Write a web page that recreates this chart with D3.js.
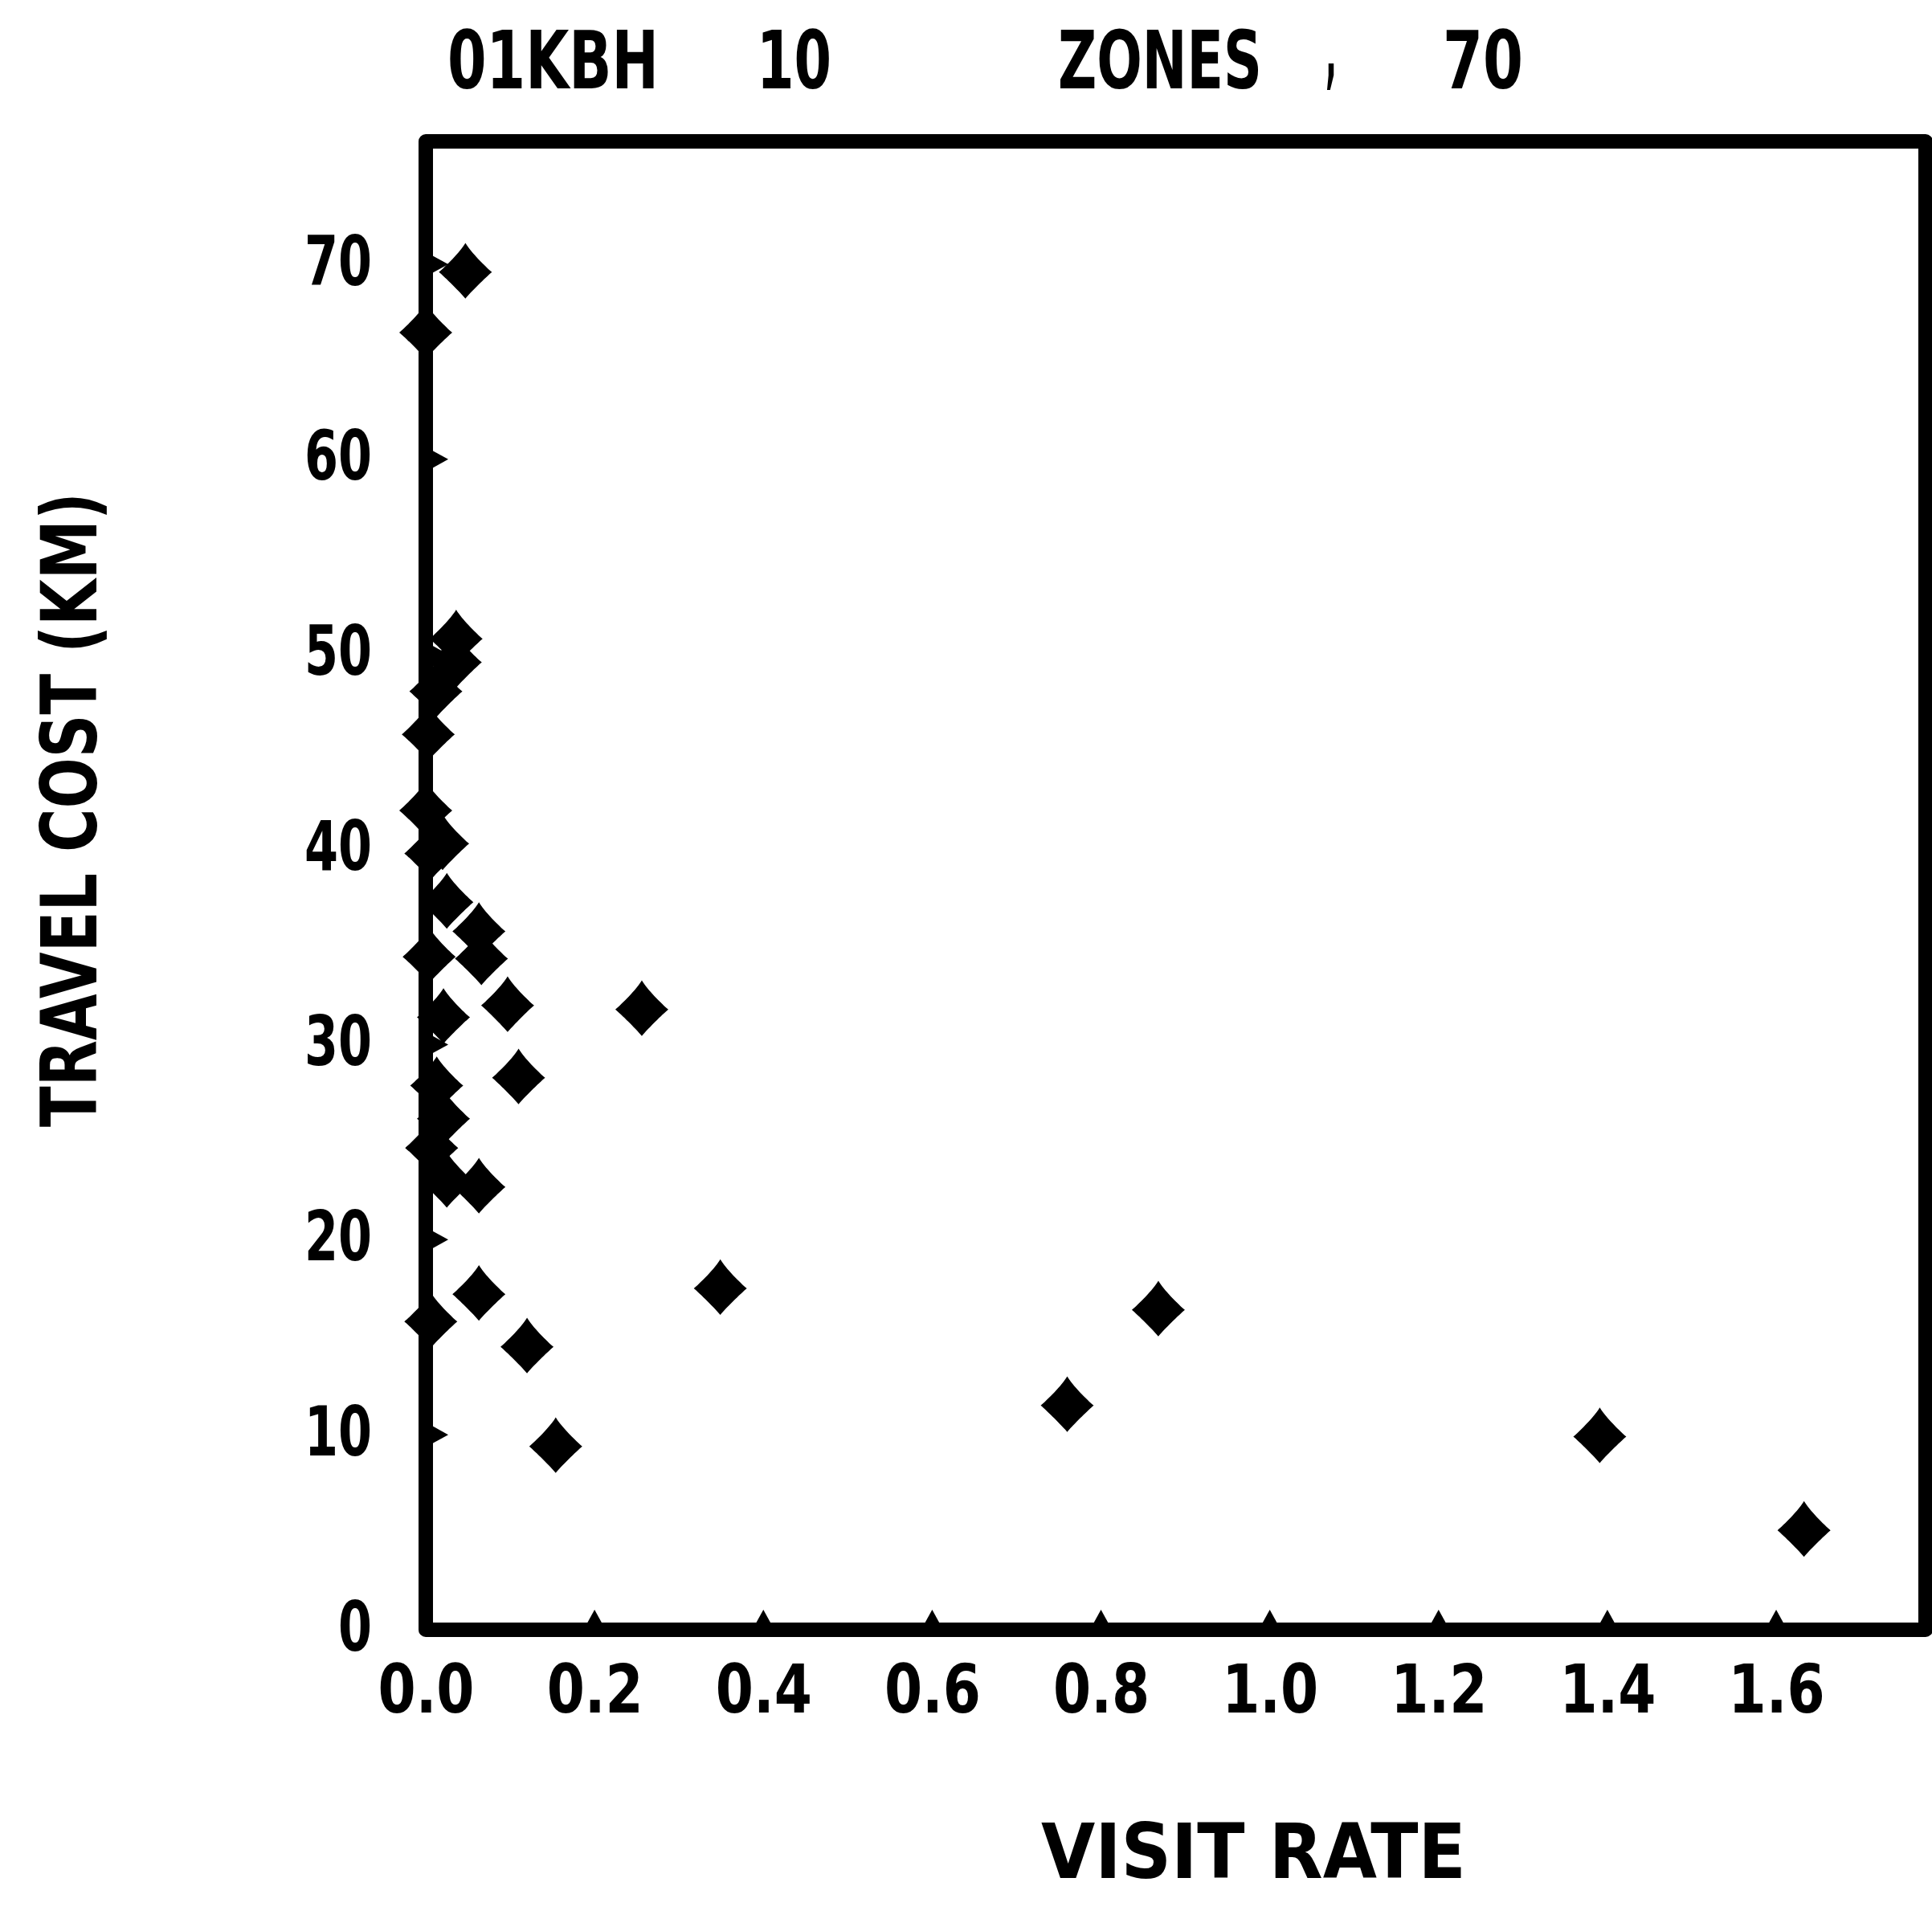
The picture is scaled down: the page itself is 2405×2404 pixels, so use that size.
<!DOCTYPE html>
<html>
<head>
<meta charset="utf-8">
<script src="https://cdn.jsdelivr.net/npm/d3@7"></script>
<style>
  html, body { margin: 0; padding: 0; background: #fff; }
  svg text { font-family: 'DejaVu Sans Condensed', 'DejaVu Sans', sans-serif; font-weight: bold; fill: #000; }
</style>
</head>
<body>
<svg id="chart" width="2405" height="2404"></svg>
<script>
// Visit rate (x) against travel cost in km (y), one point per zone
const visitRate  = [0.047, 0.000, 0.036, 0.035, 0.012, 0.003, 0.000, 0.006, 0.020,
                    0.025, 0.063, 0.066, 0.004, 0.097, 0.256, 0.021, 0.110, 0.013,
                    0.021, 0.007, 0.025, 0.063, 0.063, 0.349, 0.868, 0.006, 0.120,
                    0.760, 0.154, 1.391, 1.633];
const travelCost = [69.6, 66.5, 50.8, 49.6, 48.1, 45.9, 42.0, 39.8, 40.3,
                    37.3, 35.8, 34.4, 34.5, 32.0, 31.8, 31.4, 28.3, 27.9,
                    26.2, 24.7, 23.0, 22.7, 17.2, 17.5, 16.4, 15.8, 14.5,
                    11.5, 9.4, 9.9, 5.1];

const xTicks      = [0, 0.2, 0.4, 0.6, 0.8, 1.0, 1.2, 1.4, 1.6];
const xTickLabels = ["0.0", "0.2", "0.4", "0.6", "0.8", "1.0", "1.2", "1.4", "1.6"];
const yTicks      = [0, 10, 20, 30, 40, 50, 60, 70];
const yTickLabels = ["0", "10", "20", "30", "40", "50", "60", "70"];

const titleWords = ["01KBH", "10", "ZONES", ",", "70"];
const xTitle = "VISIT RATE";
const yTitle = "TRAVEL COST (KM)";

// ---- layout ----
const xMax = 1.777, yMax = 76.3;
const x = d3.scaleLinear().domain([0, xMax]).range([530, 2397]);
const y = d3.scaleLinear().domain([0, yMax]).range([2029, 176]);

const svg = d3.select("#chart");

// squeeze a text horizontally about its anchor point so it spans `w` pixels
function fitWidth(node, w, ax, ay) {
  const natural = node.getComputedTextLength();
  if (!natural) return;
  const s = w / natural;
  d3.select(node).attr("transform",
    `translate(${ax},${ay}) scale(${s},1) translate(${-ax},${-ay})`);
}

// title pieces, spaced like a line-printer header
const titleLayout = [
  { x: 557,  w: 263 },
  { x: 942,  w: 93  },
  { x: 1317, w: 254 },
  { x: 1650, w: 14  },
  { x: 1796, w: 100 }
];
svg.append("g").selectAll("text")
  .data(titleWords)
  .join("text")
  .attr("x", (d, i) => titleLayout[i].x)
  .attr("y", d => d === "," ? 98 : 110)
  .attr("font-size", 100)
  .text(d => d)
  .each(function (d, i) {
    fitWidth(this, titleLayout[i].w, titleLayout[i].x, 110);
  });

// plot frame
svg.append("rect")
  .attr("x", x(0)).attr("y", y(yMax))
  .attr("width", x(xMax) - x(0)).attr("height", y(0) - y(yMax))
  .attr("fill", "none").attr("stroke", "#000")
  .attr("stroke-width", 18).attr("stroke-linejoin", "round");

// axes: labels come from d3 axes, tick marks are small inward wedges
const xAxis = d3.axisBottom(x).tickValues(xTicks)
  .tickFormat((d, i) => xTickLabels[i]).tickSize(0).tickPadding(0);
const gx = svg.append("g").attr("transform", `translate(0,${y(0)})`).call(xAxis);
gx.attr("font-family", null).attr("font-size", null);
gx.select(".domain").remove();
gx.selectAll(".tick text")
  .attr("font-size", 84).attr("y", 103).attr("dy", 0)
  .each(function () { fitWidth(this, 120, 0, 103); });

const yAxis = d3.axisLeft(y).tickValues(yTicks)
  .tickFormat((d, i) => yTickLabels[i]).tickSize(0).tickPadding(0);
const gy = svg.append("g").attr("transform", `translate(${x(0)},0)`).call(yAxis);
gy.attr("font-family", null).attr("font-size", null);
gy.select(".domain").remove();
gy.selectAll(".tick text")
  .attr("font-size", 86).attr("x", -67).attr("dy", 25)
  .each(function (d) { fitWidth(this, 42 * String(d).length, -67, 0); });

// wedge-shaped tick mark, pointing along +x before rotation
const wedge = {
  draw(ctx, size) {
    const h = Math.sqrt(size);
    ctx.moveTo(0, -h * 0.55);
    ctx.lineTo(h, 0);
    ctx.lineTo(0, h * 0.55);
    ctx.closePath();
  }
};

svg.append("g").selectAll("path")
  .data(yTicks.filter(d => d > 0))
  .join("path")
  .attr("d", d3.symbol().type(wedge).size(22 * 22))
  .attr("transform", d => `translate(${x(0) + 6},${y(d)})`)
  .attr("fill", "#000");

svg.append("g").selectAll("path")
  .data(xTicks.filter(d => d > 0))
  .join("path")
  .attr("d", d3.symbol().type(wedge).size(19 * 19))
  .attr("transform", d => `translate(${x(d)},${y(0) - 6}) rotate(-90)`)
  .attr("fill", "#000");

// axis titles
svg.append("text")
  .attr("x", 1296).attr("y", 2338)
  .attr("font-size", 94)
  .text(xTitle)
  .each(function () { fitWidth(this, 529, 1296, 2338); });

const yt = svg.append("g").attr("transform", "translate(120,1403) rotate(-90)");
yt.append("text")
  .attr("x", 0).attr("y", 0)
  .attr("font-size", 96)
  .text(yTitle)
  .each(function () { fitWidth(this, 790, 0, 0); });

// plotter star: plump diamond whose sides curve in towards four sharp tips
const star4 = {
  draw(ctx, size) {
    const r = Math.sqrt(size) / 2;
    const a = 0.18 * r, b = 0.78 * r, top = 1.1 * r;
    ctx.moveTo(0, -top);
    ctx.bezierCurveTo(a, -b, b, -a, r, 0);
    ctx.bezierCurveTo(b, a, a, b, 0, r);
    ctx.bezierCurveTo(-a, b, -b, a, -r, 0);
    ctx.bezierCurveTo(-b, -a, -a, -b, 0, -top);
    ctx.closePath();
  }
};
const marker = d3.symbol().type(star4).size(66 * 66);

const points = visitRate.map((v, i) => ({ rate: v, cost: travelCost[i] }));
svg.append("g").selectAll("path")
  .data(points)
  .join("path")
  .attr("d", marker)
  .attr("transform", d => `translate(${x(d.rate)},${y(d.cost)})`)
  .attr("fill", "#000");
</script>
</body>
</html>
